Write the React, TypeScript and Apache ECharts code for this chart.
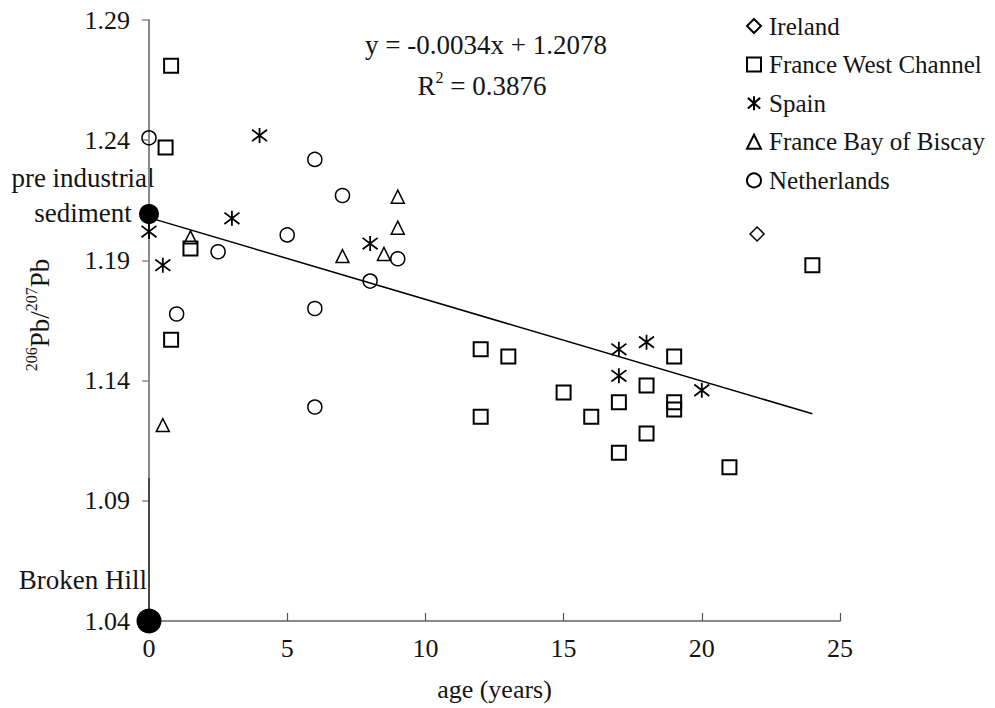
import React, { useEffect, useRef } from "react";
import * as echarts from "echarts";

// ---- data ----
const irelandAge = [22];
const irelandRatio = [1.201];

const fwcAge = [0.8, 0.6, 1.5, 0.8, 12, 13, 12, 15, 16, 17, 17, 18, 18, 19, 19, 19, 21, 24];
const fwcRatio = [1.271, 1.237, 1.195, 1.157, 1.153, 1.150, 1.125, 1.135, 1.125, 1.131, 1.110, 1.138, 1.118, 1.150, 1.131, 1.128, 1.104, 1.188];

const spainAge = [0, 0.5, 3, 4, 8, 17, 17, 18, 20];
const spainRatio = [1.202, 1.188, 1.2075, 1.242, 1.197, 1.153, 1.142, 1.156, 1.136];

const biscayAge = [0.5, 1.5, 7, 8.5, 9, 9];
const biscayRatio = [1.1215, 1.1996, 1.1918, 1.1927, 1.2165, 1.2036];

const nlAge = [0, 1, 2.5, 5, 6, 6, 6, 7, 8, 9];
const nlRatio = [1.241, 1.1677, 1.1936, 1.2006, 1.232, 1.170, 1.129, 1.217, 1.1814, 1.1907];

const refAge = [0, 0];
const refRatio = [1.2093, 1.04];

const trendAge = [0, 24];
const trendRatio = [1.2078, 1.1262];

const bhLineAge = [0, 0];
const bhLineRatio = [1.04, 1.0995];

const yTicks = [1.04, 1.09, 1.14, 1.19, 1.24, 1.29];
const xTicks = [0, 5, 10, 15, 20, 25];

const seriesNames = ["Ireland", "France West Channel", "Spain", "France Bay of Biscay", "Netherlands"];

const FONT = "Liberation Serif";
const TXT = "#141414";

const zip = (a: number[], b: number[]) => a.map((v, i) => [v, b[i]]);

const STAR = "path://M5 0L5 10M0.6 1.2L9.4 8.8M0.6 8.8L9.4 1.2";

export default function App() {
  const ref = useRef<HTMLDivElement>(null);
  useEffect(() => {
    if (!ref.current) return;
    const chart = echarts.init(ref.current, null, { renderer: "svg" });
    const open = (bw: number) => ({ color: "rgba(255,255,255,0)", borderColor: "#000", borderWidth: bw, opacity: 1 });
    chart.setOption({
      animation: false,
      backgroundColor: "#fff",
      grid: { left: 149, right: 155, top: 20, bottom: 87, containLabel: false },
      legend: {
        data: seriesNames,
        orient: "vertical",
        left: 741,
        top: 8,
        itemWidth: 14,
        itemHeight: 14,
        itemGap: 12.6,
        textStyle: { fontFamily: FONT, fontSize: 25, color: TXT, lineHeight: 26, padding: [0, 0, 0, 3] },
      },
      xAxis: {
        type: "value",
        min: xTicks[0],
        max: xTicks[xTicks.length - 1],
        interval: 5,
        splitLine: { show: false },
        axisLine: { show: true, onZero: false, lineStyle: { color: "#8a8a8a", width: 2 } },
        axisTick: { show: true, inside: true, length: 8, lineStyle: { color: "#555", width: 1.2 } },
        axisLabel: { fontFamily: FONT, fontSize: 26, color: TXT, margin: 14 },
        name: "age (years)",
        nameLocation: "middle",
        nameGap: 55,
        nameTextStyle: { fontFamily: FONT, fontSize: 26, color: TXT },
      },
      yAxis: {
        type: "value",
        min: yTicks[0],
        max: yTicks[yTicks.length - 1],
        splitLine: { show: false },
        axisLine: { show: true, onZero: false, lineStyle: { color: "#8a8a8a", width: 2 } },
        axisTick: { show: true, inside: false, length: 7, customValues: yTicks, lineStyle: { color: "#8a8a8a", width: 1.5 } },
        axisLabel: {
          fontFamily: FONT,
          fontSize: 26,
          color: TXT,
          margin: 19,
          customValues: yTicks,
          formatter: (v: number) => v.toFixed(2),
        },
      },
      graphic: [
        {
          type: "text",
          x: 38,
          y: 315,
          rotation: Math.PI / 2,
          style: {
            text: "{s|206}{m|Pb/}{s|207}{m|Pb}",
            align: "center",
            verticalAlign: "middle",
            fill: TXT,
            rich: {
              s: { fontFamily: FONT, fontSize: 16, fill: TXT, verticalAlign: "top", lineHeight: 30 },
              m: { fontFamily: FONT, fontSize: 27, fill: TXT, verticalAlign: "bottom", lineHeight: 30 },
            },
          },
        },
        {
          type: "text",
          x: 486,
          y: 45,
          style: { text: "y = -0.0034x + 1.2078", font: `27px "${FONT}"`, fill: TXT, align: "center", verticalAlign: "middle" },
        },
        {
          type: "text",
          x: 482,
          y: 84,
          style: {
            text: "{m|R}{s|2}{m| = 0.3876}",
            align: "center",
            verticalAlign: "middle",
            fill: TXT,
            rich: {
              s: { fontFamily: FONT, fontSize: 16, fill: TXT, verticalAlign: "top", lineHeight: 30 },
              m: { fontFamily: FONT, fontSize: 27, fill: TXT, verticalAlign: "bottom", lineHeight: 30 },
            },
          },
        },
        {
          type: "text",
          x: 83,
          y: 195,
          style: {
            text: "pre industrial\nsediment",
            font: `27px "${FONT}"`,
            lineHeight: 35,
            fill: TXT,
            align: "center",
            verticalAlign: "middle",
          },
        },
        {
          type: "text",
          x: 147,
          y: 580,
          style: { text: "Broken Hill", font: `27px "${FONT}"`, fill: TXT, align: "right", verticalAlign: "middle" },
        },
      ],
      series: [
        {
          name: "trend",
          type: "line",
          data: zip(trendAge, trendRatio),
          symbol: "none",
          lineStyle: { color: "#000", width: 1.5 },
          z: 1,
        },
        {
          name: "bh",
          type: "line",
          data: zip(bhLineAge, bhLineRatio),
          symbol: "none",
          lineStyle: { color: "#000", width: 1 },
          z: 1,
        },
        {
          name: "Ireland",
          type: "scatter",
          data: zip(irelandAge, irelandRatio),
          symbol: "diamond",
          symbolSize: 14,
          itemStyle: open(1.5),
          clip: false,
          z: 3,
        },
        {
          name: "France West Channel",
          type: "scatter",
          data: zip(fwcAge, fwcRatio),
          symbol: "rect",
          symbolSize: 14,
          itemStyle: open(2),
          clip: false,
          z: 3,
        },
        {
          name: "Spain",
          type: "scatter",
          data: zip(spainAge, spainRatio),
          symbol: STAR,
          symbolSize: 15,
          itemStyle: open(1.8),
          clip: false,
          z: 3,
        },
        {
          name: "France Bay of Biscay",
          type: "scatter",
          data: zip(biscayAge, biscayRatio),
          symbol: "triangle",
          symbolSize: 13,
          itemStyle: open(1.5),
          clip: false,
          z: 3,
        },
        {
          name: "Netherlands",
          type: "scatter",
          data: zip(nlAge, nlRatio),
          symbol: "circle",
          symbolSize: 14,
          itemStyle: open(1.5),
          clip: false,
          z: 3,
        },
        {
          name: "reference",
          type: "scatter",
          data: zip(refAge, refRatio),
          symbol: "circle",
          symbolSize: (_v: any, p: any) => (p.dataIndex === 0 ? 20 : 25),
          itemStyle: { color: "#000", opacity: 1 },
          clip: false,
          z: 4,
        },
      ],
    });
    return () => chart.dispose();
  }, []);
  return <div ref={ref} style={{ width: 995, height: 708, position: "absolute", left: 0, top: 0 }} />;
}
